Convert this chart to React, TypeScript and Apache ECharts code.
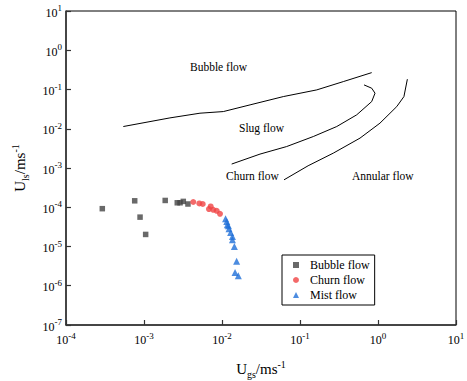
import React, { useEffect, useRef } from "react";
import * as echarts from "echarts";

const FONT = "'Liberation Serif', 'Times New Roman', serif";

// Scatter data [Ugs, Uls]
const bubbleData: number[][] = [
  [2.92e-4, 9.2e-5],
  [7.6e-4, 1.46e-4],
  [8.9e-4, 5.6e-5],
  [1.05e-3, 2.03e-5],
  [1.87e-3, 1.49e-4],
  [2.67e-3, 1.3e-4],
  [2.9e-3, 1.3e-4],
  [3.19e-3, 1.41e-4],
  [3.66e-3, 1.21e-4],
];
const churnData: number[][] = [
  [4.28e-3, 1.36e-4],
  [5.12e-3, 1.25e-4],
  [5.66e-3, 1.21e-4],
  [7.16e-3, 1.05e-4],
  [6.8e-3, 9.0e-5],
  [7.73e-3, 8.6e-5],
  [8.55e-3, 8.1e-5],
  [9.42e-3, 6.8e-5],
];
const mistData: number[][] = [
  [1.11e-2, 5.1e-5],
  [1.15e-2, 4.35e-5],
  [1.17e-2, 3.59e-5],
  [1.21e-2, 3.38e-5],
  [1.23e-2, 2.84e-5],
  [1.29e-2, 2.29e-5],
  [1.36e-2, 1.81e-5],
  [1.36e-2, 1.49e-5],
  [1.44e-2, 1.0e-5],
  [1.54e-2, 4.18e-6],
  [1.47e-2, 2.19e-6],
  [1.62e-2, 1.81e-6],
];

// Flow-regime boundary lines
const boundaryBubbleSlug: number[][] = [
  [5.43e-4, 1.14e-2],
  [2.15e-3, 1.89e-2],
  [5.22e-3, 2.49e-2],
  [1.04e-2, 2.74e-2],
  [2.29e-2, 4.06e-2],
  [6.11e-2, 6.6e-2],
  [0.164, 0.0977],
  [0.359, 0.159],
  [0.83, 0.269],
];
const boundarySlugChurn: number[][] = [
  [0.0133, 1.26e-3],
  [0.0307, 2.26e-3],
  [0.0674, 3.52e-3],
  [0.148, 6.33e-3],
  [0.296, 0.0114],
  [0.533, 0.0226],
  [0.83, 0.0492],
  [0.916, 0.0805],
  [0.83, 0.108],
  [0.662, 0.131],
];
const boundaryChurnAnnular: number[][] = [
  [0.0624, 5.0e-4],
  [0.127, 1.14e-3],
  [0.267, 2.39e-3],
  [0.588, 5.77e-3],
  [1.06, 0.0139],
  [1.74, 0.0367],
  [2.15, 0.066],
  [2.38, 0.183],
];

const seriesNames = ["Bubble flow", "Churn flow", "Mist flow"];
const legendIcons = ["rect", "circle", "triangle"];
const regionLabels = [
  { text: "Bubble flow", x: 190, y: 67 },
  { text: "Slug flow", x: 239, y: 128 },
  { text: "Churn flow", x: 226, y: 176 },
  { text: "Annular flow", x: 352, y: 176 },
];

const powLabel = (v: number) => {
  const e = Math.round(Math.log10(v));
  return `{b|10}{s|${e}}`;
};

const tickRich = {
  b: { fontSize: 12, fontFamily: FONT, color: "#000", verticalAlign: "bottom", lineHeight: 15 },
  s: { fontSize: 9, fontFamily: FONT, color: "#000", verticalAlign: "top", lineHeight: 15 },
};

const nameRich = {
  m: { fontSize: 15, fontFamily: FONT, color: "#000", verticalAlign: "middle", lineHeight: 20 },
  sub: { fontSize: 10, fontFamily: FONT, color: "#000", verticalAlign: "bottom", lineHeight: 20 },
  sup: { fontSize: 10, fontFamily: FONT, color: "#000", verticalAlign: "top", lineHeight: 20 },
};

export default function App() {
  const ref = useRef<HTMLDivElement>(null);
  useEffect(() => {
    if (!ref.current) return;
    const chart = echarts.init(ref.current, undefined, { renderer: "svg" });
    const axisCommon = {
      type: "log" as const,
      logBase: 10,
      splitLine: { show: false },
      axisLine: { show: true, lineStyle: { color: "#333", width: 1.5 } },
      axisTick: { show: true, inside: true, length: 5, lineStyle: { color: "#333", width: 1.2 } },
      minorTick: { show: false },
    };
    chart.setOption({
      animation: false,
      backgroundColor: "#fff",
      textStyle: { fontFamily: FONT },
      grid: {
        left: 66,
        right: 11,
        top: 11,
        bottom: 56,
        show: true,
        borderColor: "#000",
        borderWidth: 1,
        backgroundColor: "transparent",
        outerBoundsMode: "none",
      },
      xAxis: {
        ...axisCommon,
        min: 1e-4,
        max: 10,
        name: "{m|U}{sub|gs}{m|/ms}{sup|-1}",
        nameLocation: "middle",
        nameGap: 34,
        nameTextStyle: { rich: nameRich },
        axisLabel: {
          formatter: powLabel,
          rich: tickRich,
          margin: 6,
          showMaxLabel: true,
          showMinLabel: true,
          hideOverlap: false,
        },
      },
      yAxis: {
        ...axisCommon,
        min: 1e-7,
        max: 10,
        name: "{m|U}{sub|ls}{m|/ms}{sup|-1}",
        nameLocation: "middle",
        nameGap: 36,
        nameTextStyle: { rich: nameRich },
        axisLabel: {
          formatter: powLabel,
          rich: tickRich,
          margin: 4,
          showMaxLabel: true,
          showMinLabel: true,
          hideOverlap: false,
        },
      },
      legend: {
        data: seriesNames.map((n, i) => ({ name: n, icon: legendIcons[i] })),
        orient: "vertical",
        left: 282,
        top: 255,
        padding: [3, 5, 3, 11],
        itemWidth: 6,
        itemHeight: 6,
        itemGap: 1,
        borderColor: "#000",
        borderWidth: 1,
        textStyle: { fontFamily: FONT, fontSize: 12, color: "#000", lineHeight: 14, padding: [0, 0, 0, 6] },
      },
      graphic: regionLabels.map((l) => ({
        type: "text",
        x: l.x,
        y: l.y,
        style: {
          text: l.text,
          fontFamily: FONT,
          fontSize: 11.5,
          fill: "#000",
          verticalAlign: "middle",
        },
        silent: true,
      })),
      series: [
        {
          name: "Bubble flow",
          type: "scatter",
          symbol: "rect",
          symbolSize: 5.5,
          itemStyle: { color: "#434343" },
          data: bubbleData,
          z: 3,
        },
        {
          name: "Churn flow",
          type: "scatter",
          symbol: "circle",
          symbolSize: 6,
          itemStyle: { color: "#f04343" },
          data: churnData,
          z: 3,
        },
        {
          name: "Mist flow",
          type: "scatter",
          symbol: "triangle",
          symbolSize: 7,
          itemStyle: { color: "#1f6fd8" },
          data: mistData,
          z: 3,
        },
        ...[boundaryBubbleSlug, boundarySlugChurn, boundaryChurnAnnular].map((d, i) => ({
          name: "boundary" + i,
          type: "line",
          data: d,
          showSymbol: false,
          symbol: "none",
          lineStyle: { color: "#000", width: 1 },
          itemStyle: { color: "#000" },
          silent: true,
          z: 2,
        })),
      ],
    });
    return () => chart.dispose();
  }, []);
  return (
    <div
      ref={ref}
      style={{ position: "fixed", left: 0, top: 0, width: 467, height: 381 }}
    />
  );
}
